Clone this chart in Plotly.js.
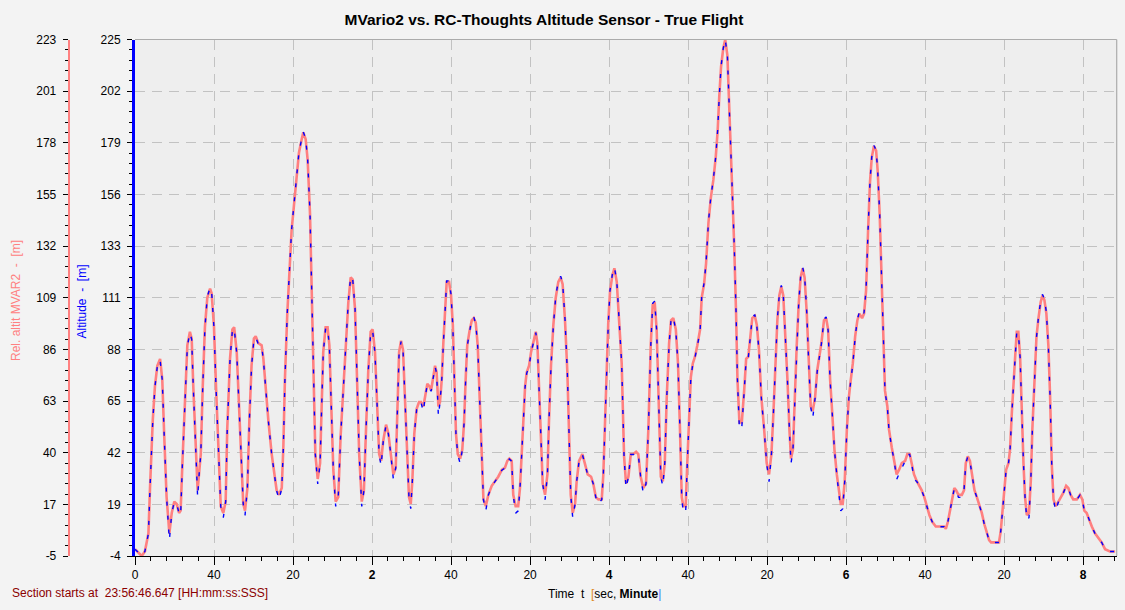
<!DOCTYPE html>
<html>
<head>
<meta charset="utf-8">
<script src="https://cdn.plot.ly/plotly-3.0.1.min.js"></script>
<style>
html,body{margin:0;padding:0;background:#F3F3F3;}
#chart{width:1125px;height:610px;}
</style>
</head>
<body>
<div id="chart"></div>
<script>
// ---- data (time in seconds from section start) ----
const timeSec = [
0,3.4,5,6.8,7.6,9,10.1,11.3,12.7,13.8,
14.8,16,17.4,18.6,19.9,21.1,22.3,23.1,24,25.3,
26.5,27.8,28.7,29.5,30.7,31.7,32.6,33.3,34.3,35.4,
36.6,38,38.8,40,41,42.2,43.4,44.7,45.9,46.7,
48.1,49.3,50.2,51.5,52.7,53.7,54.8,55.7,56.9,57.9,
59,60.2,61.1,62.4,64.1,65,66.3,67.5,69.2,70.4,
71.7,72.9,74.3,75.1,75.9,77.1,78.1,79.3,80.5,81.9,
83,84.4,85.2,86.4,87.4,88.6,89.5,90.3,91.3,92.5,
93.7,94.5,95.3,96.5,97.5,98.4,99.4,100.4,101.6,102.9,
104.1,105.5,106.8,108,109.2,110.2,111.4,112.5,113.5,114.8,
115.9,117,118.1,119.3,120.3,121.5,122.5,123.6,124.6,125.7,
127.1,128.3,129.5,130.8,132,132.8,133.7,134.7,135.7,136.7,
137.7,138.7,139.6,140.4,141.4,142.6,143.8,144.8,146,146.8,
148,149,149.9,151,151.9,152.7,153.6,154.4,155.3,156.1,
156.9,157.8,159,160,160.9,161.7,162.5,163.4,164.6,165.7,
166.6,167.4,168.2,169.3,170.5,171.5,172.5,173.5,174.5,175.5,
176.4,177.6,178.9,180.6,182.3,183.9,185.7,187.3,188.5,189.5,
190.7,191.5,192.7,194,194.9,195.8,196.6,197.5,198.3,199.5,
200.5,201.7,202.9,203.7,204.7,205.6,206.4,207.6,208.8,209.6,
210.6,211.8,213,214.3,215.5,216.5,217.7,218.9,219.7,220.6,
221.6,222.8,223.6,224.8,226.5,227.8,229.2,230.9,232,233.3,
234.6,236.3,237.1,238,238.8,239.6,240.5,241.7,242.7,243.9,
245,246.4,247.6,248.6,249.8,251,252.3,253.7,254.8,256,
257.3,258.7,259.9,261.1,262.1,263.1,264.1,265.1,266.2,267.2,
268.2,269.2,270.4,271.4,272.5,273.8,274.9,275.9,276.8,277.6,
278.8,279.6,280.5,281.4,282.4,283.5,284.7,286.1,286.9,288.1,
289.1,290.3,291.5,292.8,294,295,295.8,296.7,297.8,298.8,
299.9,300.7,301.8,302.6,303.4,304.3,305,306,307.2,308.4,
309.4,310.5,311.4,312.5,313.8,314.8,315.9,317.1,318.5,319.8,
321,322.2,323.2,324.2,325.2,326.2,327.2,328.2,329.2,330.3,
331.3,332.1,333.1,334,335,336,337,338,339,340.1,
341.1,342.1,343.1,344.3,345.4,346.5,347.5,348.8,349.9,350.9,
351.9,353,354.1,355.3,356.3,357.3,358.3,359.3,360.4,361.4,
362.4,363.4,364.6,365.7,366.7,368.1,369.1,370.1,371.1,372.1,
373,374.1,375.2,376,377,378,378.9,379.7,380.9,381.7,
383.1,384.4,385.6,386.8,388.2,389.9,391,392.2,393.2,394.4,
395.8,397.1,398.3,399.6,400.8,402.2,403.7,405.4,407.1,408.4,
409.6,410.5,411.5,412.6,413.8,414.8,415.7,416.9,418.6,419.7,
420.6,421.6,422.7,423.7,425,426.2,427.3,428.7,430,431.2,
432.4,433.4,435.4,437.4,438.3,439.1,440,441,442.2,443,
443.9,444.7,445.6,446.4,447.2,448.1,448.9,449.8,450.6,451.5,
452.6,453.5,454.3,455.3,456.4,457.4,458.5,459.4,460.4,461.4,
462.4,463.3,464.1,465,466.1,467.5,468.8,470,471.4,472.5,
473.7,475,476.8,478.4,479.6,480.6,481.8,483,484.4,486,
487.7,489.4,491.1,493.6,496.2
];

// Altitude [m] (RC-Thoughts sensor, blue axis)
const altitude = [
-1,-4,-2,6,26,56,71,80,83,74,
49,22,3,15,20,19,15,14,37,68,
89,95,92,71,43,22,34,41,71,97,
111,115,113,97,71,41,18,13,20,52,
83,96,97,86,62,40,19,14,26,56,
80,92,93,90,89,83,68,56,41,34,
25,21,26,44,74,104,123,141,152,164,
175,181,184,181,172,148,111,71,41,28,
37,62,86,97,97,89,62,34,18,22,
49,71,93,109,120,119,106,74,41,18,
25,53,78,95,96,86,60,41,36,47,
54,50,41,30,35,56,86,91,87,65,
40,22,17,29,50,61,64,64,60,66,
72,71,69,75,80,77,58,64,74,90,
106,118,118,112,98,77,50,41,37,43,
55,74,89,95,101,102,99,89,68,47,
21,16,23,27,29,31,34,35,38,39,
38,23,15,16,26,44,56,71,77,80,
86,90,95,90,68,44,28,21,32,56,
80,98,111,118,120,117,101,77,47,23,
13,19,29,38,41,37,32,31,28,22,
19,21,32,56,80,99,114,121,124,118,
102,81,40,26,31,41,41,42,41,31,
24,28,52,89,108,109,96,64,31,27,
37,66,90,101,102,96,81,52,22,15,
16,37,59,75,81,84,89,96,111,117,
126,144,155,163,173,185,200,213,221,225,
218,200,173,155,133,104,74,52,53,69,
83,84,93,102,103,98,87,66,52,37,
29,41,59,81,101,112,116,112,96,74,
52,37,43,66,89,108,120,124,120,104,
81,62,57,66,78,84,90,101,102,96,
74,59,43,32,25,16,17,29,52,66,
74,81,93,101,104,102,104,114,140,162,
173,178,176,167,148,115,84,69,62,52,
44,38,30,32,35,38,41,41,37,30,
29,27,25,22,18,14,11,9,9,9,
9,8,11,16,22,26,25,22,22,25,
37,40,38,32,25,22,19,15,10,6,
3,2,2,2,7,15,26,34,37,43,
59,74,84,95,95,84,59,37,22,12,
13,29,52,74,93,102,109,112,110,104,
89,66,37,21,16,20,22,24,27,26,
23,21,21,23,21,16,15,12,9,6,
4,2,-1,-2,-2
];

// Rel. altit MVAR2 [m] (MVario2, red axis)
const relAltMvar2 = [
-2,-5,-3,5,25,55,70,79,82,73,
48,21,5,14,19,18,14,15,36,67,
88,94,91,70,42,24,33,40,70,96,
109,113,111,96,70,40,17,14,19,51,
82,95,96,85,61,39,18,15,25,55,
79,91,92,89,88,82,67,55,40,33,
24,22,25,43,73,102,121,139,150,162,
173,179,182,179,170,146,109,70,40,29,
36,61,85,96,96,88,61,33,19,21,
48,70,92,107,118,117,104,73,40,19,
24,52,77,94,95,85,59,40,37,46,
53,49,40,31,34,55,85,90,86,64,
39,21,18,28,49,60,63,63,61,65,
71,70,68,74,79,76,61,63,73,89,
104,116,116,110,97,76,49,40,38,42,
54,73,88,94,99,100,98,88,67,46,
20,17,22,26,28,30,33,34,37,38,
37,22,17,17,25,43,55,70,76,79,
85,89,94,89,67,43,27,22,31,55,
79,97,109,116,118,115,99,76,46,22,
14,18,28,37,40,36,31,30,27,21,
20,20,31,55,79,98,112,119,122,116,
100,80,39,27,30,40,40,41,40,30,
25,27,51,88,106,107,95,63,30,28,
36,65,89,99,100,95,80,51,21,17,
17,36,58,74,80,83,88,95,109,115,
124,142,153,161,171,183,198,211,219,223,
216,198,171,153,131,102,73,54,54,68,
82,83,92,100,101,97,86,65,51,36,
31,40,58,80,99,110,114,110,95,73,
51,38,42,65,88,106,118,122,118,102,
80,61,59,65,77,83,89,99,100,95,
73,58,42,31,24,18,18,28,51,65,
73,80,92,99,102,100,102,112,138,160,
171,176,174,165,146,113,83,68,61,51,
43,37,31,33,36,37,40,40,36,31,
28,26,24,21,17,13,10,8,8,8,
8,7,10,15,21,25,24,22,22,24,
36,39,37,31,24,21,18,14,9,5,
2,1,1,1,6,14,25,33,36,42,
58,73,83,94,94,83,58,36,21,13,
14,28,51,73,92,100,107,110,108,102,
88,65,36,20,17,19,21,23,26,25,
22,20,20,22,20,15,14,11,8,5,
3,1,-2,-3,-3
];

// tick labels
const xTickVals = [0,40,80,120,160,200,240,280,320,360,400,440,480];
const xTickText = ['0','40','20','<b>2</b>','40','20','<b>4</b>','40','20','<b>6</b>','40','20','<b>8</b>'];
const blueTickLabels = ['-4','19','42','65','88','111','133','156','179','202','225'];
const redTickLabels  = ['-5','17','40','63','86','109','132','155','178','201','223'];

// ---- layout helpers (pixel geometry) ----
const W = 1125, H = 610;
const plotL = 135, plotR = 1116.7, plotT = 39.5, plotB = 556;
const px = v => v / W;
const py = v => 1 - v / H;
const blueRange = [-4, 225];
const redRange = [-5, 223];
function evenTicks(r, n){ const out=[]; for(let k=0;k<n;k++) out.push(r[0] + (r[1]-r[0])*k/(n-1)); return out; }
const blueTickVals = evenTicks(blueRange, blueTickLabels.length);
const redTickVals = evenTicks(redRange, redTickLabels.length);

const FONT = 'Liberation Sans, Arial, sans-serif';
const gridCol = '#C2C2C2';
const gridDash = '10px,7px';

const traces = [
  {
    x: timeSec, y: relAltMvar2, yaxis: 'y', xaxis: 'x',
    type: 'scatter', mode: 'lines', name: 'Rel. altit MVAR2',
    line: {color: '#FF8080', width: 2.6},
    hoverinfo: 'skip'
  },
  {
    x: timeSec, y: altitude, yaxis: 'y2', xaxis: 'x',
    type: 'scatter', mode: 'lines', name: 'Altitude',
    line: {color: '#0000FF', width: 1.4, dash: '4px,10px'},
    hoverinfo: 'skip'
  }
];

const layout = {
  width: W, height: H,
  margin: {l: 0, r: 0, t: 0, b: 0, pad: 0},
  paper_bgcolor: '#F3F3F3',
  plot_bgcolor: '#EEEEEE',
  showlegend: false,
  font: {family: FONT, size: 12, color: '#000'},
  title: {
    text: '<b>MVario2 vs. RC-Thoughts Altitude Sensor - True Flight</b>',
    font: {family: FONT, size: 15.5, color: '#000'},
    x: px(544), xref: 'container', xanchor: 'center',
    y: py(20), yref: 'container', yanchor: 'middle'
  },
  xaxis: {
    domain: [px(plotL), px(plotR)],
    range: [0, 497],
    tickmode: 'array', tickvals: xTickVals, ticktext: xTickText,
    tickfont: {family: FONT, size: 12, color: '#000'},
    ticks: 'outside', ticklen: 8, tickwidth: 1, tickcolor: '#000',
    showline: true, linecolor: '#000', linewidth: 1,
    showgrid: true, gridcolor: gridCol, gridwidth: 1, griddash: gridDash,
    zeroline: false, automargin: false, fixedrange: true,
    minor: {dtick: 8, tick0: 0, ticks: 'outside', ticklen: 4, tickwidth: 1, tickcolor: '#000', showgrid: false}
  },
  yaxis: {
    domain: [py(plotB), py(plotT)],
    anchor: 'free', position: px(68.7), side: 'left',
    range: redRange,
    tickmode: 'array', tickvals: redTickVals, ticktext: redTickLabels,
    tickfont: {family: FONT, size: 12, color: '#000'},
    ticks: 'outside', ticklen: 5, tickwidth: 1, tickcolor: '#000',
    ticklabelstandoff: 4,
    showline: true, linecolor: '#FF8080', linewidth: 2,
    showgrid: true, gridcolor: gridCol, gridwidth: 1, griddash: gridDash,
    zeroline: false, automargin: false, fixedrange: true,
    minor: {dtick: (redRange[1]-redRange[0])/50, tick0: redRange[0], ticks: 'outside', ticklen: 3, tickwidth: 1, tickcolor: '#000', showgrid: false}
  },
  yaxis2: {
    overlaying: 'y', anchor: 'x', side: 'left',
    range: blueRange,
    tickmode: 'array', tickvals: blueTickVals, ticktext: blueTickLabels,
    tickfont: {family: FONT, size: 12, color: '#000'},
    ticks: 'outside', ticklen: 5, tickwidth: 1, tickcolor: '#000',
    ticklabelstandoff: 4,
    showline: true, linecolor: '#0000FF', linewidth: 3,
    showgrid: false,
    zeroline: false, automargin: false, fixedrange: true,
    minor: {dtick: (blueRange[1]-blueRange[0])/50, tick0: blueRange[0], ticks: 'outside', ticklen: 3, tickwidth: 1, tickcolor: '#000', showgrid: false}
  },
  shapes: [
    {type: 'line', xref: 'paper', yref: 'paper', x0: px(plotL), x1: px(plotR), y0: py(plotT), y1: py(plotT), line: {color: '#ABABAB', width: 1.2}},
    {type: 'line', xref: 'paper', yref: 'paper', x0: px(plotR), x1: px(plotR), y0: py(plotB), y1: py(plotT), line: {color: '#ABABAB', width: 1.2}}
  ],
  annotations: [
    {text: 'Rel. altit MVAR2\u00a0\u00a0-\u00a0\u00a0[m]', xref: 'paper', yref: 'paper', x: px(16), y: py(301),
     showarrow: false, textangle: -90, xanchor: 'center', yanchor: 'middle',
     font: {family: FONT, size: 12, color: '#FF8080'}},
    {text: 'Altitude\u00a0\u00a0-\u00a0\u00a0[m]', xref: 'paper', yref: 'paper', x: px(81.5), y: py(302),
     showarrow: false, textangle: -90, xanchor: 'center', yanchor: 'middle',
     font: {family: FONT, size: 12, color: '#0000FF'}},
    {text: 'Time\u00a0\u00a0t\u00a0\u00a0<span style="color:#E08A1E">[</span>sec, <b>Minute</b><span style="color:#3A7BFF">|</span>',
     xref: 'paper', yref: 'paper', x: px(604), y: py(594),
     showarrow: false, xanchor: 'center', yanchor: 'middle',
     font: {family: FONT, size: 12, color: '#000'}},
    {text: 'Section starts at\u00a0\u00a023:56:46.647 [HH:mm:ss:SSS]', xref: 'paper', yref: 'paper', x: px(10), y: py(593),
     showarrow: false, xanchor: 'left', yanchor: 'middle',
     font: {family: FONT, size: 12, color: '#8B0000'}}
  ]
};

Plotly.newPlot('chart', traces, layout, {staticPlot: true, displayModeBar: false});
</script>
</body>
</html>
